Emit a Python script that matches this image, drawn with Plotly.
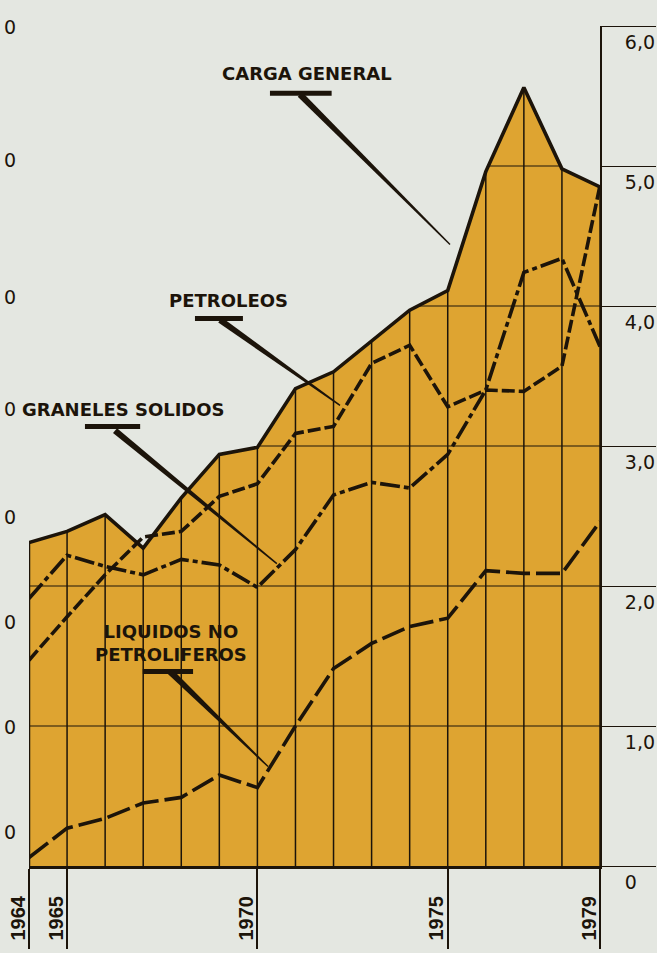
import math
import plotly.graph_objects as go

# --- data (right axis units) ---
years = list(range(1964, 1980))
carga_general = [2.31, 2.39, 2.51, 2.27, 2.63, 2.94, 2.99, 3.41, 3.53, 3.75, 3.97, 4.11, 4.96, 5.56, 4.98, 4.85]
petroleos = [1.47, 1.78, 2.08, 2.35, 2.39, 2.64, 2.73, 3.09, 3.14, 3.59, 3.72, 3.28, 3.40, 3.39, 3.57, 4.86]
graneles_solidos = [1.91, 2.22, 2.14, 2.08, 2.19, 2.15, 1.99, 2.26, 2.65, 2.74, 2.70, 2.94, 3.40, 4.24, 4.34, 3.71]
liquidos_no_petr = [0.06, 0.27, 0.34, 0.45, 0.49, 0.65, 0.56, 1.00, 1.41, 1.59, 1.71, 1.77, 2.11, 2.09, 2.09, 2.46]

x_ticks = [1964, 1965, 1970, 1975, 1979]
y_ticks = [0, 1, 2, 3, 4, 5, 6]
y_ticktext = ["0", "1,0", "2,0", "3,0", "4,0", "5,0", "6,0"]
# cut-off left axis labels (only the last digit survives the crop)
left_label_y = [5.99, 5.04, 4.06, 3.26, 2.49, 1.74, 0.99, 0.24]

# callouts: text, text position, underline bar, pointer (from, to)
callout_text = ["CARGA GENERAL", "PETROLEOS", "GRANELES SOLIDOS", "LIQUIDOS NO<br>PETROLIFEROS"]
callout_xy = [(1971.30, 5.66), (1969.25, 4.04), (1966.48, 3.26), (1967.73, 1.59)]
callout_bar = [(1970.33, 1971.95, 5.52), (1968.36, 1969.62, 3.91), (1965.47, 1966.92, 3.14), (1966.99, 1968.31, 1.39)]
callout_ptr = [(1971.12, 5.51, 1975.06, 4.44), (1969.02, 3.90, 1972.17, 3.29),
               (1966.26, 3.11, 1970.51, 2.16), (1967.70, 1.39, 1970.28, 0.71)]

W, H = 657, 953
L, R, T, B = 29, 600, 26, 866
BG = "#e4e7e1"
GOLD = "#dea431"
INK = "#1c140a"
PX_YEAR = (R - L) / (years[-1] - years[0])
PX_UNIT = (B - T) / 6


def level_segments(xs, ys, v):
    # parts of the horizontal line y=v that lie under the filled curve
    sx, sy = [], []
    start = xs[0] if ys[0] >= v else None
    for i in range(len(xs) - 1):
        y0, y1 = ys[i], ys[i + 1]
        if (y0 - v) * (y1 - v) < 0:
            xc = xs[i] + (v - y0) * (xs[i + 1] - xs[i]) / (y1 - y0)
            if start is None:
                start = xc
            else:
                sx += [start, xc, None]; sy += [v, v, None]; start = None
    if start is not None:
        sx += [start, xs[-1], None]; sy += [v, v, None]
    return sx, sy


def wedge(x0, y0, x1, y1, w0=3.2, w1=0.7):
    dx = (x1 - x0) * PX_YEAR; dy = -(y1 - y0) * PX_UNIT
    ln = math.hypot(dx, dy)
    nx, ny = -dy / ln, dx / ln
    def off(w): return nx * w / PX_YEAR, -ny * w / PX_UNIT
    a, b = off(w0), off(w1)
    return (f"M {x0 + a[0]},{y0 + a[1]} L {x1 + b[0]},{y1 + b[1]} "
            f"L {x1 - b[0]},{y1 - b[1]} L {x0 - a[0]},{y0 - a[1]} Z")


fig = go.Figure()
fig.add_trace(go.Scatter(x=years, y=carga_general, fill="tozeroy", fillcolor=GOLD,
                         mode="lines", line=dict(width=0), hoverinfo="skip"))

# grid only inside the filled area
gx, gy = [], []
for yr, c in zip(years, carga_general):
    gx += [yr, yr, None]; gy += [0, c, None]
fig.add_trace(go.Scatter(x=gx, y=gy, mode="lines", line=dict(color=INK, width=1.5), hoverinfo="skip"))
hx, hy = [], []
for v in y_ticks[1:]:
    sx, sy = level_segments(years, carga_general, v)
    hx += sx; hy += sy
fig.add_trace(go.Scatter(x=hx, y=hy, mode="lines", line=dict(color=INK, width=1.1), hoverinfo="skip"))

for vals, dash in [(petroleos, "13px,4px"), (graneles_solidos, "20px,4px,5px,4px"),
                   (liquidos_no_petr, "24px,6px")]:
    fig.add_trace(go.Scatter(x=years, y=vals, mode="lines",
                             line=dict(color=INK, width=3.6, dash=dash), hoverinfo="skip"))

fig.add_trace(go.Scatter(x=years, y=carga_general, mode="lines",
                         line=dict(color=INK, width=3.6), hoverinfo="skip"))
fig.add_trace(go.Scatter(x=[years[0], years[0]], y=[0, carga_general[0]], mode="lines",
                         line=dict(color=INK, width=2.5), hoverinfo="skip"))
# invisible trace that carries the cropped left scale
fig.add_trace(go.Scatter(x=[years[0]], y=[0], yaxis="y2", mode="markers",
                         marker=dict(opacity=0), hoverinfo="skip"))

for txt, (tx, ty) in zip(callout_text, callout_xy):
    fig.add_annotation(x=tx, y=ty, text=txt, showarrow=False, xanchor="center", yanchor="middle",
                       font=dict(family="DejaVu Sans", size=18, color=INK, weight="bold"))
for x0, x1, yb in callout_bar:
    fig.add_shape(type="line", x0=x0, x1=x1, y0=yb, y1=yb, line=dict(color=INK, width=5))
for x0, y0, x1, y1 in callout_ptr:
    fig.add_shape(type="path", path=wedge(x0, y0, x1, y1), fillcolor=INK, line=dict(width=0))

fig.update_layout(
    width=W, height=H, autosize=False, showlegend=False,
    margin=dict(l=L, r=W - R, t=T, b=H - B, autoexpand=False),
    paper_bgcolor=BG, plot_bgcolor=BG,
    xaxis=dict(range=[years[0], years[-1]], showgrid=False, zeroline=False, automargin=False,
               showline=True, linecolor=INK, linewidth=3,
               tickvals=x_ticks, ticks="outside", ticklen=80, tickwidth=1.5, tickcolor=INK,
               tickangle=-90, ticklabelstandoff=-61, ticklabelshift=-11,
               tickfont=dict(family="Liberation Sans", size=20, color=INK, weight="bold")),
    yaxis=dict(range=[0, 6], side="right", showgrid=False, zeroline=False, automargin=False,
               showline=True, linecolor=INK, linewidth=2,
               tickvals=y_ticks, ticktext=y_ticktext, ticks="outside", ticklen=54,
               tickwidth=1, tickcolor=INK, ticklabelstandoff=-35, ticklabelshift=16,
               tickfont=dict(family="DejaVu Sans", size=19, color=INK)),
    yaxis2=dict(range=[0, 6], overlaying="y", side="left", showgrid=False, zeroline=False,
                automargin=False, showline=False, ticks="",
                tickvals=left_label_y, ticktext=["0"] * len(left_label_y),
                ticklabelstandoff=12,
                tickfont=dict(family="DejaVu Sans", size=19, color=INK)),
)

fig.write_html("out.html", config={"displayModeBar": False},
               post_script="document.body.style.margin='0';"
                           "document.documentElement.style.overflow='hidden';")
